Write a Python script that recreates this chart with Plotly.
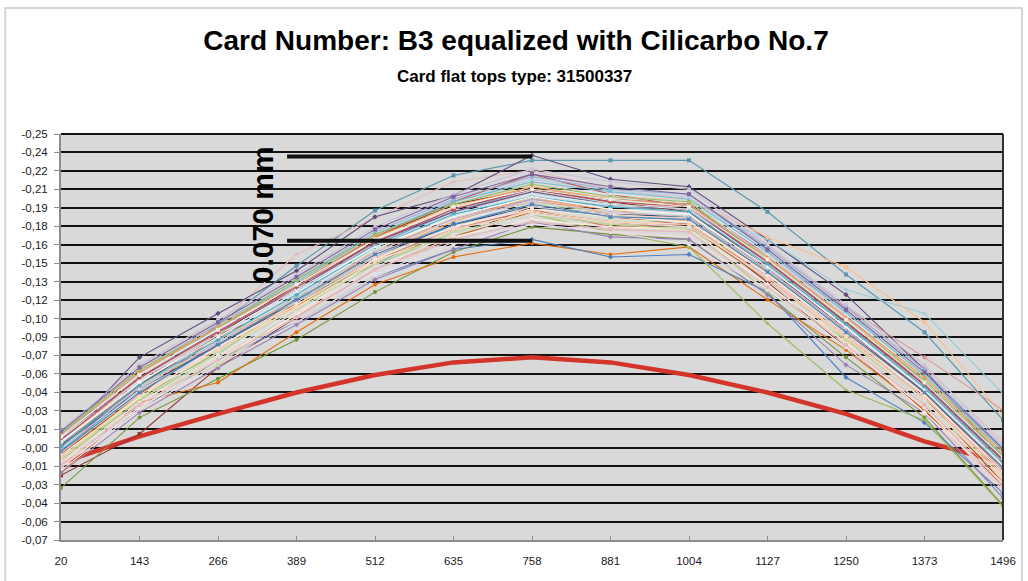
import plotly.graph_objects as go

# ---- data -------------------------------------------------------------
categories = ["20", "143", "266", "389", "512", "635", "758", "881", "1004", "1127", "1250", "1373", "1496"]

y_tick_labels = ["-0,25", "-0,24", "-0,22", "-0,21", "-0,19", "-0,18", "-0,16", "-0,15", "-0,13",
                 "-0,12", "-0,10", "-0,09", "-0,07", "-0,06", "-0,04", "-0,03", "-0,01", "-0,00",
                 "-0,01", "-0,03", "-0,04", "-0,06", "-0,07"]

reference_curve = [-0.012, 0.009, 0.027, 0.044, 0.058, 0.068, 0.072, 0.068, 0.058, 0.044, 0.027, 0.005, -0.012]

p01 = [0.002, 0.050, 0.098, 0.145, 0.189, 0.217, 0.229, 0.229, 0.229, 0.188, 0.138, 0.092, 0.022]
p02 = [0.012, 0.060, 0.099, 0.154, 0.183, 0.212, 0.221, 0.206, 0.198, 0.162, 0.112, 0.064, 0.005]
p03 = [0.006, 0.072, 0.107, 0.141, 0.184, 0.201, 0.233, 0.214, 0.208, 0.166, 0.122, 0.062, -0.010]
p04 = [-0.022, 0.011, 0.064, 0.104, 0.142, 0.168, 0.192, 0.184, 0.178, 0.132, 0.080, 0.030, -0.030]
p05 = [-0.032, 0.024, 0.055, 0.086, 0.124, 0.156, 0.176, 0.170, 0.166, 0.122, 0.072, 0.024, -0.046]
p06 = [-0.020, 0.036, 0.052, 0.092, 0.130, 0.152, 0.163, 0.154, 0.160, 0.118, 0.078, 0.030, -0.032]
p07 = [-0.010, 0.030, 0.070, 0.100, 0.136, 0.158, 0.166, 0.152, 0.154, 0.124, 0.056, 0.020, -0.036]
p08 = [-0.006, 0.040, 0.076, 0.112, 0.150, 0.170, 0.186, 0.172, 0.160, 0.099, 0.046, 0.022, -0.047]
p09 = [0.004, 0.050, 0.088, 0.124, 0.160, 0.186, 0.202, 0.196, 0.192, 0.166, 0.126, 0.107, 0.043]
p10 = [0.010, 0.064, 0.100, 0.130, 0.166, 0.192, 0.206, 0.200, 0.198, 0.168, 0.144, 0.100, 0.026]
p11 = [0.000, 0.050, 0.086, 0.120, 0.158, 0.184, 0.198, 0.190, 0.186, 0.150, 0.112, 0.072, 0.030]
p12 = [0.010, 0.058, 0.095, 0.132, 0.170, 0.196, 0.214, 0.205, 0.200, 0.158, 0.108, 0.058, -0.002]
p13 = [0.004, 0.055, 0.090, 0.128, 0.168, 0.196, 0.218, 0.202, 0.192, 0.150, 0.100, 0.052, -0.008]
p14 = [-0.006, 0.052, 0.078, 0.114, 0.150, 0.176, 0.194, 0.188, 0.184, 0.142, 0.086, 0.046, -0.016]
p15 = [0.000, 0.048, 0.084, 0.120, 0.156, 0.182, 0.198, 0.192, 0.190, 0.150, 0.104, 0.052, -0.010]
p16 = [-0.012, 0.036, 0.072, 0.106, 0.142, 0.168, 0.190, 0.176, 0.174, 0.140, 0.082, 0.034, -0.026]
p17 = [0.008, 0.058, 0.093, 0.128, 0.164, 0.190, 0.206, 0.198, 0.194, 0.154, 0.106, 0.052, -0.008]
p18 = [-0.004, 0.044, 0.072, 0.118, 0.162, 0.180, 0.196, 0.188, 0.186, 0.144, 0.096, 0.046, -0.016]
p19 = [0.002, 0.052, 0.088, 0.112, 0.158, 0.182, 0.196, 0.190, 0.180, 0.138, 0.090, 0.042, -0.020]
p20 = [-0.015, 0.032, 0.068, 0.104, 0.140, 0.176, 0.182, 0.176, 0.180, 0.130, 0.084, 0.044, -0.030]
p21 = [0.012, 0.062, 0.098, 0.134, 0.172, 0.198, 0.216, 0.206, 0.202, 0.160, 0.112, 0.062, 0.000]
p22 = [-0.008, 0.030, 0.076, 0.112, 0.146, 0.172, 0.196, 0.182, 0.180, 0.140, 0.094, 0.044, -0.018]
p23 = [0.005, 0.054, 0.090, 0.126, 0.162, 0.188, 0.204, 0.196, 0.190, 0.146, 0.098, 0.048, -0.012]
p24 = [-0.002, 0.046, 0.082, 0.118, 0.146, 0.178, 0.192, 0.184, 0.182, 0.140, 0.100, 0.044, -0.006]
p25 = [-0.018, 0.030, 0.066, 0.100, 0.136, 0.162, 0.178, 0.172, 0.168, 0.126, 0.080, 0.032, -0.034]
p26 = [0.014, 0.066, 0.102, 0.138, 0.176, 0.202, 0.222, 0.212, 0.206, 0.162, 0.114, 0.066, 0.002]
p27 = [-0.010, 0.038, 0.074, 0.120, 0.146, 0.170, 0.186, 0.178, 0.176, 0.124, 0.086, 0.038, -0.024]
p28 = [0.006, 0.050, 0.086, 0.122, 0.158, 0.184, 0.200, 0.192, 0.188, 0.144, 0.096, 0.048, -0.012]
p29 = [-0.005, 0.042, 0.090, 0.114, 0.150, 0.168, 0.188, 0.180, 0.176, 0.134, 0.088, 0.040, -0.028]
p30 = [0.009, 0.058, 0.094, 0.130, 0.168, 0.194, 0.210, 0.202, 0.198, 0.154, 0.106, 0.056, -0.004]
p31 = [-0.020, 0.028, 0.064, 0.098, 0.134, 0.158, 0.180, 0.168, 0.166, 0.122, 0.066, 0.028, -0.040]
p32 = [0.000, 0.050, 0.086, 0.120, 0.158, 0.184, 0.200, 0.190, 0.186, 0.140, 0.092, 0.044, -0.016]
p33 = [-0.007, 0.056, 0.080, 0.114, 0.150, 0.174, 0.190, 0.176, 0.178, 0.136, 0.088, 0.040, -0.020]
p34 = [0.003, 0.052, 0.088, 0.124, 0.162, 0.188, 0.206, 0.198, 0.194, 0.150, 0.100, 0.050, -0.010]
p35 = [-0.013, 0.034, 0.070, 0.106, 0.150, 0.168, 0.182, 0.176, 0.174, 0.130, 0.084, 0.028, -0.028]
p36 = [0.011, 0.060, 0.096, 0.132, 0.170, 0.196, 0.212, 0.204, 0.198, 0.156, 0.108, 0.058, -0.002]
p37 = [0.008, 0.048, 0.084, 0.118, 0.154, 0.180, 0.200, 0.186, 0.182, 0.140, 0.092, 0.044, -0.016]
p38 = [0.007, 0.056, 0.092, 0.126, 0.164, 0.188, 0.204, 0.194, 0.190, 0.148, 0.100, 0.050, -0.010]
p39 = [-0.016, 0.032, 0.068, 0.112, 0.138, 0.164, 0.178, 0.172, 0.162, 0.126, 0.080, 0.032, -0.032]
p40 = [0.002, 0.046, 0.082, 0.116, 0.152, 0.178, 0.192, 0.186, 0.184, 0.142, 0.094, 0.046, -0.014]
p41 = [-0.009, 0.040, 0.066, 0.110, 0.146, 0.172, 0.186, 0.178, 0.174, 0.142, 0.086, 0.038, -0.024]
p42 = [0.001, 0.050, 0.090, 0.130, 0.168, 0.194, 0.206, 0.196, 0.188, 0.144, 0.094, 0.044, -0.018]
p43 = [0.008, 0.054, 0.092, 0.128, 0.166, 0.190, 0.208, 0.200, 0.196, 0.152, 0.104, 0.054, -0.006]
p44 = [-0.004, 0.046, 0.080, 0.116, 0.152, 0.176, 0.192, 0.186, 0.182, 0.138, 0.090, 0.042, -0.018]
p45 = [0.012, 0.062, 0.096, 0.134, 0.170, 0.194, 0.210, 0.200, 0.196, 0.150, 0.102, 0.054, -0.006]
p46 = [-0.011, 0.036, 0.074, 0.108, 0.144, 0.170, 0.186, 0.180, 0.176, 0.136, 0.088, 0.038, -0.024]
p47 = [0.004, 0.052, 0.090, 0.126, 0.160, 0.186, 0.202, 0.194, 0.190, 0.146, 0.098, 0.048, -0.012]
p48 = [-0.006, 0.040, 0.080, 0.114, 0.150, 0.176, 0.190, 0.184, 0.180, 0.138, 0.092, 0.042, -0.020]
p49 = [0.010, 0.060, 0.096, 0.130, 0.168, 0.192, 0.208, 0.198, 0.194, 0.152, 0.104, 0.056, -0.004]
p50 = [-0.014, 0.034, 0.070, 0.104, 0.142, 0.166, 0.180, 0.174, 0.172, 0.128, 0.082, 0.034, -0.030]
p51 = [0.006, 0.056, 0.092, 0.128, 0.164, 0.190, 0.206, 0.196, 0.192, 0.148, 0.100, 0.050, -0.010]
p52 = [-0.001, 0.048, 0.084, 0.120, 0.156, 0.182, 0.196, 0.188, 0.184, 0.142, 0.094, 0.046, -0.014]
p53 = [0.013, 0.064, 0.100, 0.136, 0.174, 0.200, 0.218, 0.208, 0.202, 0.158, 0.110, 0.060, -0.001]
p54 = [-0.008, 0.042, 0.078, 0.112, 0.148, 0.174, 0.188, 0.180, 0.178, 0.134, 0.088, 0.040, -0.022]
p55 = [0.001, 0.050, 0.086, 0.122, 0.160, 0.186, 0.200, 0.192, 0.188, 0.146, 0.098, 0.048, -0.012]
p56 = [0.005, 0.052, 0.088, 0.124, 0.160, 0.184, 0.200, 0.190, 0.186, 0.144, 0.096, 0.046, -0.014]
p57 = [-0.003, 0.044, 0.082, 0.118, 0.154, 0.178, 0.194, 0.184, 0.182, 0.140, 0.092, 0.044, -0.016]
p58 = [0.009, 0.058, 0.094, 0.130, 0.166, 0.192, 0.206, 0.198, 0.192, 0.150, 0.102, 0.052, -0.008]

series_colors = ["#5A97AE", "#E6B9B8", "#5F4A7F", "#943634", "#77933C", "#E46C0A", "#4F81BD",
                 "#9BBB59", "#93CDDD", "#FAC090", "#D99694", "#B9CDE5", "#C0504D", "#C3D69B",
                 "#B3A2C7", "#FCD5B5", "#8064A2", "#DBEEF4", "#F79646", "#E6E0EC", "#95B3D7",
                 "#D7E4BD", "#E6B9B8", "#4BACC6", "#F2DCDB", "#CCC1DA", "#AFC97A", "#B7DEE8",
                 "#B65708", "#DCE6F2", "#9983B5", "#EBF1DE", "#CD7371", "#729ACA", "#FDEADA",
                 "#6FBDD1", "#F9AB6B", "#664F83", "#E6E0EC", "#2C4D75", "#C3D69B", "#772C2A",
                 "#DCE6F2", "#F2DCDB", "#9BBB59", "#E6E0EC", "#DBEEF4", "#FDEADA", "#F79646",
                 "#E5B9B7", "#C0504D", "#CCC0DA", "#8064A2", "#FBD4B4", "#4BACC6", "#F5F5F5",
                 "#4F81BD", "#EEECE1"]

marker_cycle = ["square", "triangle-up", "diamond", "square", "circle", "circle", "diamond",
                "triangle-up", "triangle-up", "square", "diamond", "x", "square", "circle",
                "diamond", "triangle-up", "x", "square", "circle", "diamond"]

annotation_top = 0.232
annotation_bottom = 0.165
annotation_x_start = 2.88
annotation_x_end = 6.0

# ---- figure -------------------------------------------------------------
all_series = [p01, p02, p03, p04, p05, p06, p07, p08, p09, p10, p11, p12, p13, p14,
              p15, p16, p17, p18, p19, p20, p21, p22, p23, p24, p25, p26, p27, p28,
              p29, p30, p31, p32, p33, p34, p35, p36, p37, p38, p39, p40, p41, p42,
              p43, p44, p45, p46, p47, p48, p49, p50, p51, p52, p53, p54, p55, p56,
              p57, p58]

FONT = "Liberation Sans"
fig = go.Figure()

fig.add_trace(go.Scatter(x=categories, y=reference_curve, mode="lines",
                         line=dict(color="#D3352B", width=4.5), showlegend=False,
                         hoverinfo="skip"))

for i, vals in enumerate(all_series):
    c = series_colors[i % len(series_colors)]
    fig.add_trace(go.Scatter(
        x=categories, y=vals, mode="lines+markers",
        line=dict(color=c, width=1.1),
        marker=dict(symbol=marker_cycle[i % len(marker_cycle)], size=4, color=c,
                    line=dict(width=0, color=c)),
        showlegend=False, name=f"Flat {i + 1}"))

y_step = 0.25 / 17
y_tick_values = [0.25 - k * y_step for k in range(len(y_tick_labels))]

fig.update_layout(
    width=1028, height=581,
    margin=dict(l=61, r=21, t=134, b=41),
    paper_bgcolor="white", plot_bgcolor="#D9D9D9",
    showlegend=False,
    font=dict(family=FONT, color="#1A1A1A"),
    title=dict(text="Card Number: B3 equalized with Cilicarbo No.7",
               font=dict(family=FONT, size=28, color="black", weight="bold"),
               x=516 / 1028, xanchor="center", xref="container",
               y=1 - 40 / 581, yanchor="middle", yref="container"),
    xaxis=dict(type="category", range=[0, len(categories) - 1],
               showgrid=False, zeroline=False,
               showline=True, linecolor="#8C8C8C", linewidth=2,
               ticks="inside", ticklen=4, tickcolor="#8C8C8C", tickwidth=1,
               tickfont=dict(family=FONT, size=11.5, color="#1A1A1A"),
               ticklabelstandoff=9),
    yaxis=dict(range=[y_tick_values[-1], 0.25],
               tickmode="array", tickvals=y_tick_values, ticktext=y_tick_labels,
               showgrid=True, gridcolor="#111111", gridwidth=1.6,
               zeroline=True, zerolinecolor="#111111", zerolinewidth=1.6,
               showline=True, linecolor="#8C8C8C", linewidth=2,
               ticks="outside", ticklen=5, tickcolor="#8C8C8C", tickwidth=1,
               tickfont=dict(family=FONT, size=11.5, color="#1A1A1A"),
               ticklabelstandoff=4),
)

# plot-area top and right borders
fig.add_shape(type="line", xref="paper", yref="paper", x0=0, x1=1, y0=1, y1=1,
              line=dict(color="#111111", width=2))
fig.add_shape(type="line", xref="paper", yref="paper", x0=1, x1=1, y0=0, y1=1,
              line=dict(color="#333333", width=2))
# outer chart frame
fig.add_shape(type="rect", xref="paper", yref="paper", x0=-0.0592, x1=1.0201,
              y0=-0.2, y1=1.3103, line=dict(color="#D4D4D4", width=2), layer="below")

# measurement markers
for yv in (annotation_top, annotation_bottom):
    fig.add_shape(type="line", xref="x", yref="y", x0=annotation_x_start, x1=annotation_x_end,
                  y0=yv, y1=yv, line=dict(color="#111111", width=4))

fig.add_annotation(text="0.070 mm", textangle=-90, xref="paper", yref="paper",
                   x=(263 - 61) / 946, y=(540 - 215) / 406, xanchor="center", yanchor="middle",
                   showarrow=False, font=dict(family=FONT, size=30, color="black", weight="bold"))

fig.add_annotation(text="Card flat tops type: 31500337", xref="paper", yref="paper",
                   x=(516 - 61) / 946, y=(540 - 77) / 406, xanchor="center", yanchor="middle",
                   showarrow=False, font=dict(family=FONT, size=17, color="black", weight="bold"))

# the page body has a default 8px margin; remove it so the 1028x581 figure fills the window
fig.write_html("out.html", config={"displayModeBar": False},
               post_script="document.body.style.margin='0';")
